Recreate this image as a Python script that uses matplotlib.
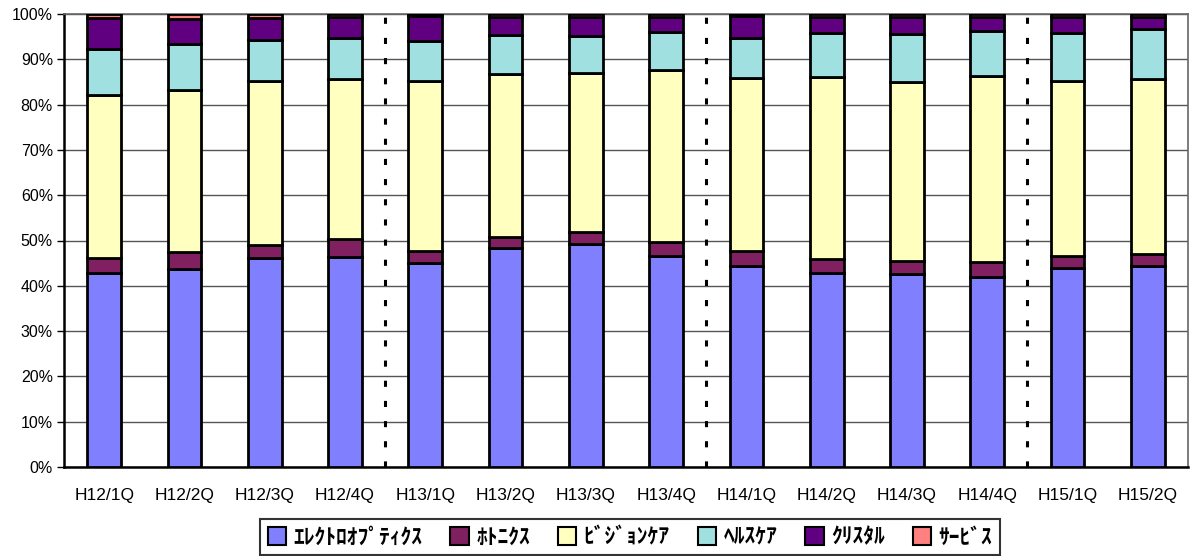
import matplotlib
matplotlib.use("Agg")
import matplotlib.pyplot as plt
import numpy as np
from matplotlib.patches import Patch

plt.rcParams['font.family'] = ['Liberation Sans', 'DejaVu Sans']

categories = ["H12/1Q", "H12/2Q", "H12/3Q", "H12/4Q", "H13/1Q", "H13/2Q", "H13/3Q",
              "H13/4Q", "H14/1Q", "H14/2Q", "H14/3Q", "H14/4Q", "H15/1Q", "H15/2Q"]

series_names = ["ｴﾚｸﾄﾛｵﾌﾟﾃｨｸｽ", "ﾎﾄﾆｸｽ", "ﾋﾞｼﾞｮﾝｹｱ", "ﾍﾙｽｹｱ", "ｸﾘｽﾀﾙ", "ｻｰﾋﾞｽ"]

electro_optics = [42.8, 43.6, 46.1, 46.3, 45.0, 48.3, 49.2, 46.6, 44.4, 42.9, 42.5, 42.0, 44.0, 44.4]
photonics      = [3.3, 3.8, 3.0, 4.1, 2.7, 2.5, 2.7, 3.1, 3.3, 3.0, 2.9, 3.2, 2.6, 2.6]
vision_care    = [36.0, 35.8, 36.2, 35.3, 37.4, 36.0, 35.0, 37.9, 38.1, 40.1, 39.6, 41.1, 38.7, 38.6]
health_care    = [10.2, 10.2, 9.0, 9.0, 8.9, 8.5, 8.2, 8.4, 9.0, 9.7, 10.6, 10.0, 10.4, 11.0]
crystal        = [6.9, 5.6, 4.9, 4.6, 5.5, 4.0, 4.3, 3.4, 4.8, 3.6, 3.7, 3.1, 3.7, 2.7]
service        = [0.8, 1.0, 0.8, 0.7, 0.5, 0.7, 0.6, 0.6, 0.4, 0.7, 0.7, 0.6, 0.6, 0.7]

separators = [3.5, 7.5, 11.5]

colors = ["#8080FF", "#802060", "#FFFFC0", "#A0E0E0", "#600080", "#FF8080"]

series = [electro_optics, photonics, vision_care, health_care, crystal, service]

fig = plt.figure(figsize=(11.99, 5.56), dpi=100)
ax = fig.add_axes([64/1199, 1-467/556, (1188-64)/1199, (467-14)/556])

x = np.arange(len(categories))
bottom = np.zeros(len(categories))
for vals, col in zip(series, colors):
    vals = np.array(vals)
    ax.bar(x, vals, bottom=bottom, width=0.42, color=col, edgecolor="black",
           linewidth=2.0, zorder=3)
    bottom += vals

for s in separators:
    ax.plot([s, s], [0, 100], color="black", linewidth=2.2,
            linestyle=(0, (2.0, 4.6)), zorder=2)

ax.set_xlim(-0.5, len(categories) - 0.5)
ax.set_ylim(0, 100)
ax.set_yticks(np.arange(0, 101, 10))
ax.set_yticklabels([f"{v}%" for v in range(0, 101, 10)], fontsize=11.5)
ax.set_xticks(x)
ax.set_xticklabels(categories, fontsize=12.5)
ax.tick_params(axis='x', length=0, pad=15)
ax.tick_params(axis='y', length=5, width=1, pad=3, direction='out')
ax.yaxis.grid(True, color="#555555", linewidth=1.0, zorder=1)
ax.set_axisbelow(True)

for side in ["left", "bottom"]:
    ax.spines[side].set_color("black")
    ax.spines[side].set_linewidth(1.8)
for side in ["top", "right"]:
    ax.spines[side].set_color("#666666")
    ax.spines[side].set_linewidth(1.2)

handles = [Patch(facecolor=c, edgecolor="black", linewidth=1.5) for c in colors]
leg = fig.legend(handles, series_names, loc="center", bbox_to_anchor=(630/1199, 1-537/556),
                 ncol=6, frameon=True, fancybox=False, edgecolor="black",
                 handlelength=0.85, handleheight=0.85, handletextpad=0.35,
                 columnspacing=1.3, borderpad=0.35,
                 prop={'family': ['Noto Sans CJK JP', 'DejaVu Sans'], 'size': 15.5, 'weight': 'bold'})
leg.get_frame().set_linewidth(1.5)

fig.savefig("out.png", dpi=100)
